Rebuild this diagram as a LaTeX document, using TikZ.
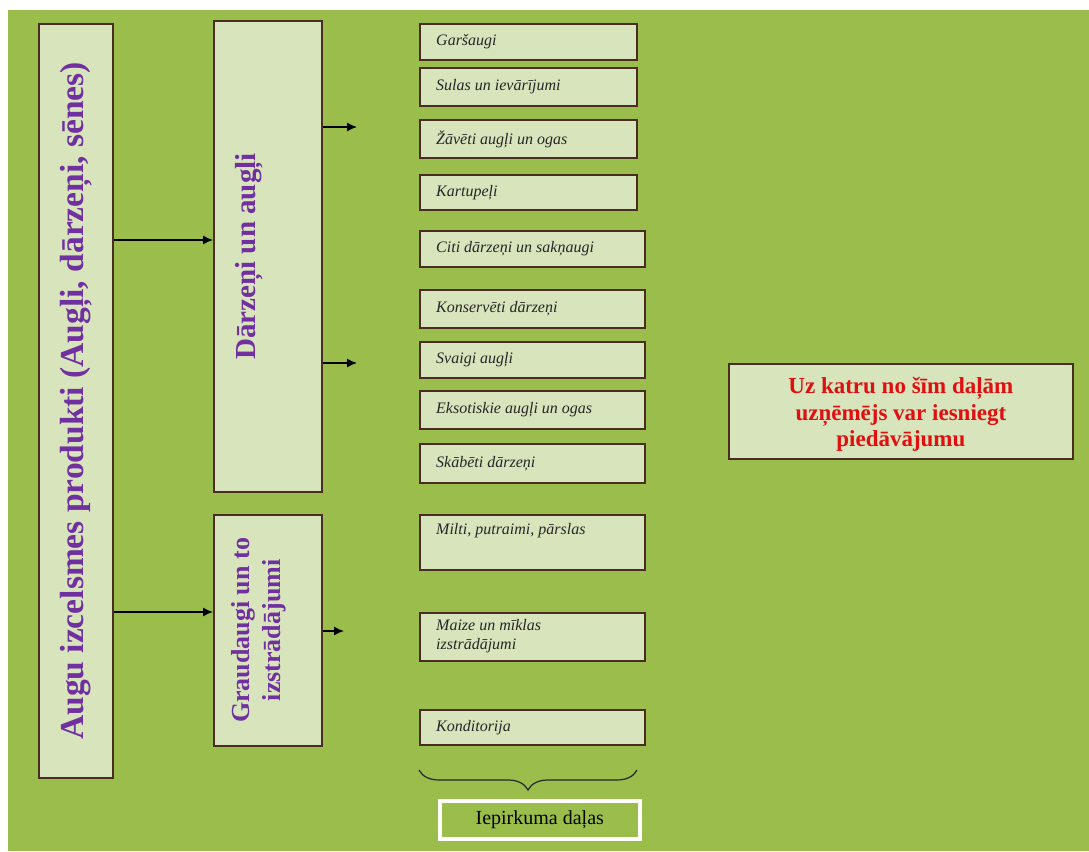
\documentclass[tikz,border=0pt]{standalone}
\usepackage{fontspec}
\setmainfont{Liberation Serif}
\usetikzlibrary{arrows.meta,decorations.pathreplacing}
\definecolor{bggreen}{HTML}{9ABD4C}
\definecolor{boxfill}{HTML}{D7E4BC}
\definecolor{boxline}{HTML}{4A2C22}
\definecolor{purpletxt}{HTML}{7030A0}
\definecolor{redtxt}{HTML}{E01010}
\tikzset{
  box/.style={draw=boxline, fill=boxfill, line width=1.8pt, anchor=north west, inner sep=0pt},
  bigtxt/.style={text=purpletxt, font=\bfseries},
  itemfont/.style={font=\fontsize{16}{19}\selectfont\itshape, text=black!85, inner sep=0pt},
  conn/.style={-{Latex[length=10pt,width=9pt]}, line width=1.4pt, black},
}
\begin{document}
\begin{tikzpicture}[x=1pt,y=-1pt]
\useasboundingbox (0,0) rectangle (1089,851);
\fill[bggreen] (8,10) rectangle (1089,851);

% main box
\node[box, minimum width=74pt, minimum height=754pt] (main) at (38,23) {};
\node[bigtxt, rotate=90, font=\bfseries\fontsize{33.5}{36}\selectfont] at (main.center) {Augu izcelsmes produkti (Augļi, dārzeņi, sēnes)};

% middle boxes
\node[box, minimum width=108pt, minimum height=471pt] (veg) at (213,20) {};
\node[bigtxt, rotate=90, font=\bfseries\fontsize{29}{31}\selectfont] at ([xshift=-19pt]veg.center) {Dārzeņi un augļi};

\node[box, minimum width=108pt, minimum height=231pt] (grain) at (213,514) {};
\node[bigtxt, rotate=90, align=center, font=\bfseries\fontsize{26}{31}\selectfont] at ([xshift=-9pt]grain.center) {Graudaugi un to\\izstrādājumi};

% arrows main -> middle
\draw[conn] (main.east |- 0,240) -- (veg.west |- 0,240);
\draw[conn] (main.east |- 0,612) -- (grain.west |- 0,612);

% arrows from middle boxes
\coordinate (e1) at (357,127);
\coordinate (e2) at (357,363);
\coordinate (e3) at (344,631);
\draw[conn] (veg.east |- e1) -- (e1);
\draw[conn] (veg.east |- e2) -- (e2);
\draw[conn] (grain.east |- e3) -- (e3);

% item boxes
\newcommand{\itembox}[5]{%
  \node[box, minimum width=#2pt, minimum height=#4pt] (#1) at (419,#3) {};
  \node[itemfont, anchor=west] at ([xshift=17pt]#1.west) {#5};
}
\itembox{i1}{217}{23}{36}{Garšaugi}
\itembox{i2}{217}{67}{38}{Sulas un ievārījumi}
\itembox{i3}{217}{119}{38}{Žāvēti augļi un ogas}
\itembox{i4}{217}{174}{35}{Kartupeļi}
\itembox{i5}{225}{230}{36}{Citi dārzeņi un sakņaugi}
\itembox{i6}{225}{289}{38}{Konservēti dārzeņi}
\itembox{i7}{225}{341}{36}{Svaigi augļi}
\itembox{i8}{225}{390}{38}{Eksotiskie augļi un ogas}
\itembox{i9}{225}{443}{39}{Skābēti dārzeņi}

\node[box, minimum width=225pt, minimum height=55pt] (i10) at (419,514) {};
\node[itemfont, anchor=north west] at ([xshift=17pt,yshift=-9pt]i10.north west) {Milti, putraimi, pārslas};

\node[box, minimum width=225pt, minimum height=48pt] (i11) at (419,612) {};
\node[itemfont, anchor=north west, align=left] at ([xshift=17pt,yshift=-7pt]i11.north west) {Maize un mīklas\\izstrādājumi};

\itembox{i12}{225}{709}{35}{Konditorija}

% brace
\coordinate (b1) at (419,770);
\coordinate (b2) at (637,770);
\draw[decorate, decoration={brace, mirror, amplitude=20pt}, line width=1.2pt, black!85] (b1) -- (b2);

\node[draw=white, line width=3.5pt, fill=bggreen, minimum width=200pt, minimum height=38pt, anchor=north west,
  font=\fontsize{20}{22}\selectfont] (parts) at (438,799) {Iepirkuma daļas};

% right note
\node[box, minimum width=344pt, minimum height=95pt] (note) at (728,363) {};
\node[text=redtxt, align=center, font=\bfseries\fontsize{23}{26.5}\selectfont] at ([yshift=-3pt]note.center)
  {Uz katru no šīm daļām\\uzņēmējs var iesniegt\\piedāvājumu};
\end{tikzpicture}
\end{document}
